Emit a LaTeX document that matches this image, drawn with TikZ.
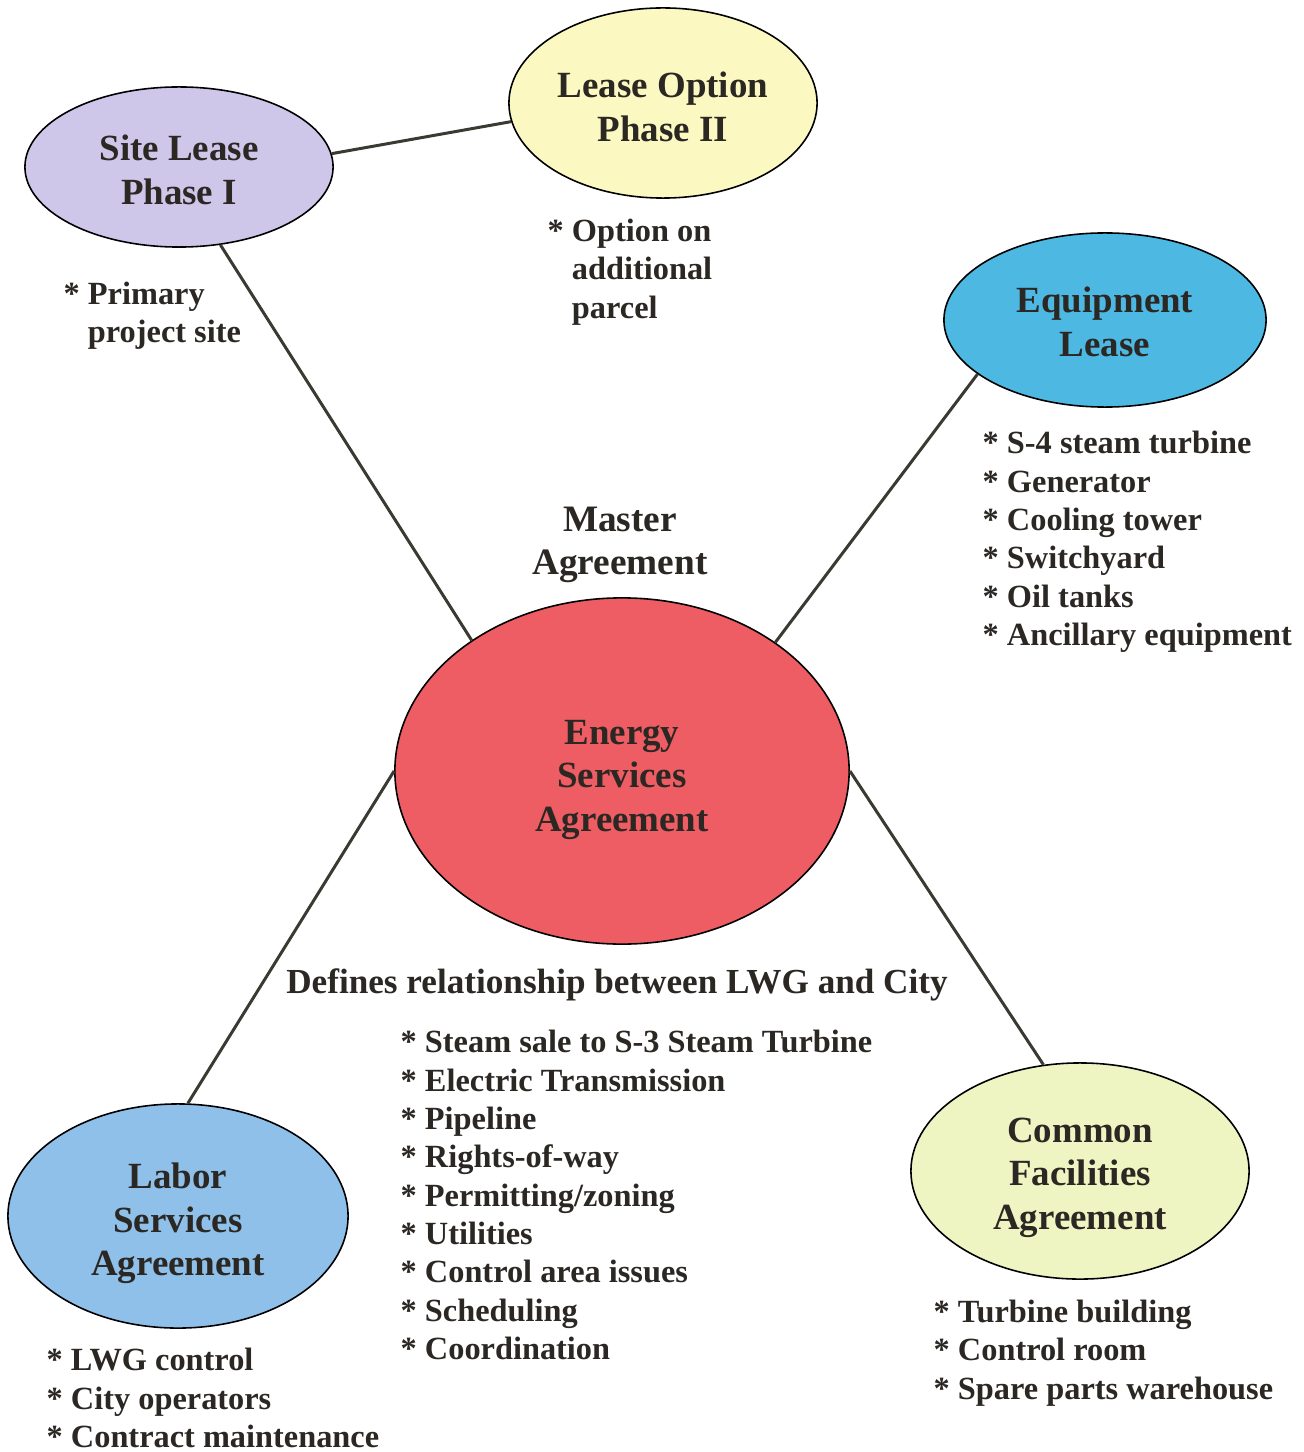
\documentclass[tikz,border=0pt]{standalone}
\usepackage{fontspec}
\setmainfont{Liberation Serif}
\usetikzlibrary{shapes.geometric}
\definecolor{txt}{HTML}{2B2723}
\definecolor{lnk}{HTML}{3A3A32}
\definecolor{cSite}{HTML}{CFC7EA}
\definecolor{cOpt}{HTML}{FBF8C2}
\definecolor{cEquip}{HTML}{4DB9E2}
\definecolor{cEnergy}{HTML}{EE5D64}
\definecolor{cLabor}{HTML}{8FC0EA}
\definecolor{cCommon}{HTML}{EEF5C2}
\newcommand\ovtext[2]{\raisebox{-#1mm}[\height][\depth]{\begin{tabular}{@{}c@{}}#2\end{tabular}}}
\tikzset{
  oval/.style={ellipse, draw=black, line width=0.45pt, inner sep=0pt, align=center,
    text=txt, font=\fontsize{10.5}{12.4}\selectfont\bfseries},
  listtext/.style={anchor=west, align=left, text=txt, inner sep=0pt,
    font=\fontsize{9.2}{10.9}\selectfont\bfseries},
  captext/.style={align=center, text=txt, inner sep=0pt,
    font=\fontsize{10.6}{12.4}\selectfont\bfseries},
  link/.style={draw=lnk, line width=0.85pt}
}
\begin{document}
\begin{tikzpicture}[x=0.01cm,y=-0.01cm]
\useasboundingbox (0,0) rectangle (1304,1452);
\fill[white] (0,0) rectangle (1304,1452);

\node[oval, fill=cSite, minimum width=3.08cm, minimum height=1.60cm] (site) at (179,167) {\ovtext{0.7}{Site Lease\\Phase I}};
\node[oval, fill=cOpt, minimum width=3.08cm, minimum height=1.90cm] (opt) at (663,103) {\ovtext{0.8}{Lease Option\\Phase II}};
\node[oval, fill=cEquip, minimum width=3.22cm, minimum height=1.74cm] (equip) at (1105,320) {\ovtext{0.6}{Equipment\\Lease}};
\node[oval, fill=cEnergy, minimum width=4.54cm, minimum height=3.46cm] (energy) at (622,771) {\ovtext{0.8}{Energy\\Services\\Agreement}};
\node[oval, fill=cLabor, minimum width=3.40cm, minimum height=2.24cm] (labor) at (178,1216) {\ovtext{0.75}{Labor\\Services\\Agreement}};
\node[oval, fill=cCommon, minimum width=3.38cm, minimum height=2.16cm] (common) at (1080,1171) {\ovtext{0.6}{Common\\Facilities\\Agreement}};

\draw[link] (site.5.6) -- (opt.-173.3);
\draw[link] (site.-62.6) -- (energy.139.2);
\draw[link] (equip.203.4) -- (energy.40.8);
\draw[link] (labor.85.9) -- (energy.180);
\draw[link] (common.109.4) -- (energy.0);

\node[listtext] (primary) at (63,316) {* Primary\\\phantom{*} project site};
\node[listtext] (option) at (547,272) {* Option on\\\phantom{*} additional\\\phantom{*} parcel};
\node[listtext] (equiplist) at (982,542) {* S-4 steam turbine\\* Generator\\* Cooling tower\\* Switchyard\\* Oil tanks\\* Ancillary equipment};
\node[captext] (master) at (620,545) {Master\\Agreement};
\node[captext, font=\fontsize{10}{12}\selectfont\bfseries] (defines) at (617,985) {Defines relationship between LWG and City};
\node[listtext] (esalist) at (400,1195) {* Steam sale to S-3 Steam Turbine\\* Electric Transmission\\* Pipeline\\* Rights-of-way\\* Permitting/zoning\\* Utilities\\* Control area issues\\* Scheduling\\* Coordination};
\node[listtext] (laborlist) at (46,1398) {* LWG control\\* City operators\\* Contract maintenance};
\node[listtext] (commonlist) at (933,1353) {* Turbine building\\* Control room\\* Spare parts warehouse};
\end{tikzpicture}
\end{document}
